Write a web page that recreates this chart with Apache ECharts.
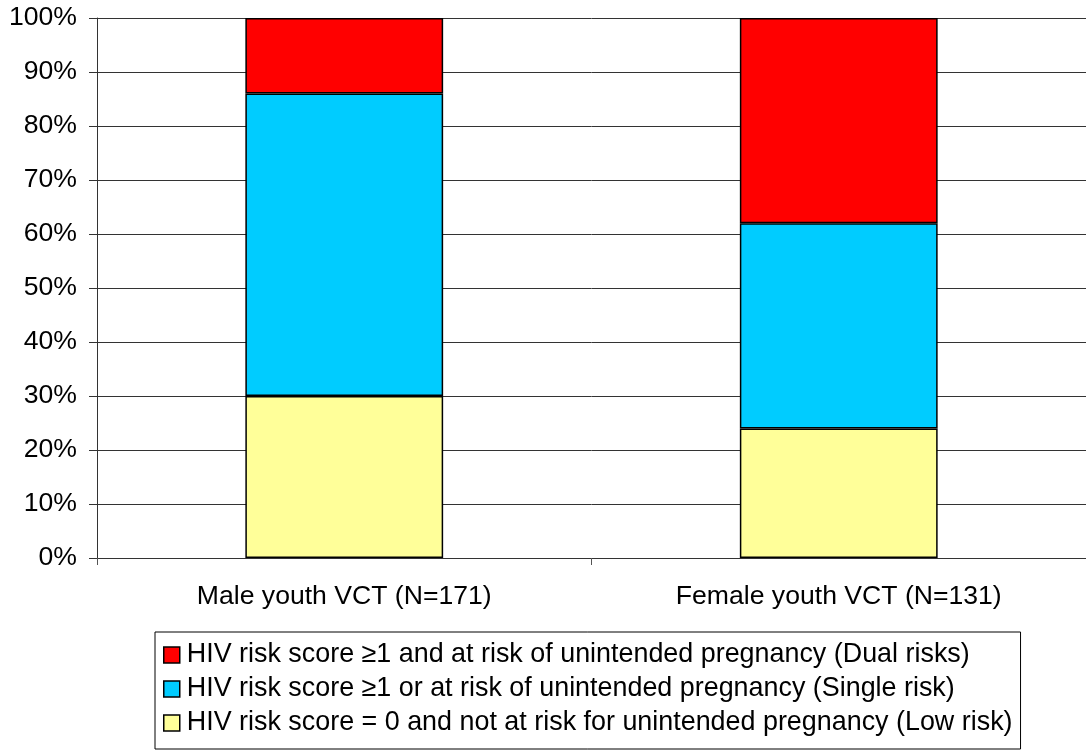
<!DOCTYPE html>
<html>
<head>
<meta charset="utf-8">
<script src="https://cdn.jsdelivr.net/npm/echarts@6/dist/echarts.min.js"></script>
<style>
  html, body { margin: 0; padding: 0; background: #fff; }
  #chart { width: 1086px; height: 752px; }
</style>
</head>
<body>
<div id="chart"></div>
<script>
// data (percent of each group)
const categories = ['Male youth VCT (N=171)', 'Female youth VCT (N=131)'];
const lowRisk = [30, 24];
const singleRisk = [56, 38];
const dualRisk = [14, 38];
const yTicks = [0, 10, 20, 30, 40, 50, 60, 70, 80, 90, 100];

const names = {
  dual: 'HIV risk score \u22651 and at risk of unintended pregnancy (Dual risks)',
  single: 'HIV risk score \u22651 or at risk of unintended pregnancy (Single risk)',
  low: 'HIV risk score = 0 and not at risk for unintended pregnancy (Low risk)'
};

const font = 'Liberation Sans, Arial, sans-serif';
const fs = 26.6;
const chart = echarts.init(document.getElementById('chart'));

function barSeries(name, data, color) {
  return {
    name: name,
    type: 'bar',
    stack: 'total',
    barWidth: '40%',
    data: data,
    itemStyle: { color: color, borderColor: '#000', borderWidth: 1.5 },
    emphasis: { disabled: true }
  };
}

chart.setOption({
  animation: false,
  textStyle: { fontFamily: font },
  grid: { left: 97, right: 0, top: 18, bottom: 194 },
  xAxis: {
    type: 'category',
    data: categories,
    axisLine: { lineStyle: { color: '#333', width: 1 } },
    axisTick: { show: true, length: 7, lineStyle: { color: '#555' } },
    axisLabel: { color: '#000', fontSize: fs, margin: 25, fontFamily: font }
  },
  yAxis: {
    type: 'value',
    min: yTicks[0],
    max: yTicks[yTicks.length - 1],
    interval: 10,
    axisLine: { show: true, lineStyle: { color: '#333', width: 1 } },
    axisTick: { show: true, length: 8, lineStyle: { color: '#333' } },
    splitLine: { show: true, lineStyle: { color: '#333', width: 1 } },
    axisLabel: { color: '#000', fontSize: fs, margin: 20, fontFamily: font, formatter: '{value}%' }
  },
  legend: {
    orient: 'vertical',
    left: 155,
    top: 632,
    data: [names.dual, names.single, names.low].map(n => ({ name: n, icon: 'rect' })),
    backgroundColor: '#fff',
    borderColor: '#000',
    borderWidth: 1,
    padding: [8, 8, 11, 8],
    itemGap: 4,
    itemWidth: 16,
    itemHeight: 16,
    selectedMode: false,
    itemStyle: { borderColor: '#000', borderWidth: 1.5 },
    textStyle: { color: '#000', fontSize: 26.9, lineHeight: 30, fontFamily: font, padding: [0, 0, 0, 2] }
  },
  series: [
    barSeries(names.low, lowRisk, '#FFFF99'),
    barSeries(names.single, singleRisk, '#00CCFF'),
    barSeries(names.dual, dualRisk, '#FF0000')
  ]
});
</script>
</body>
</html>
